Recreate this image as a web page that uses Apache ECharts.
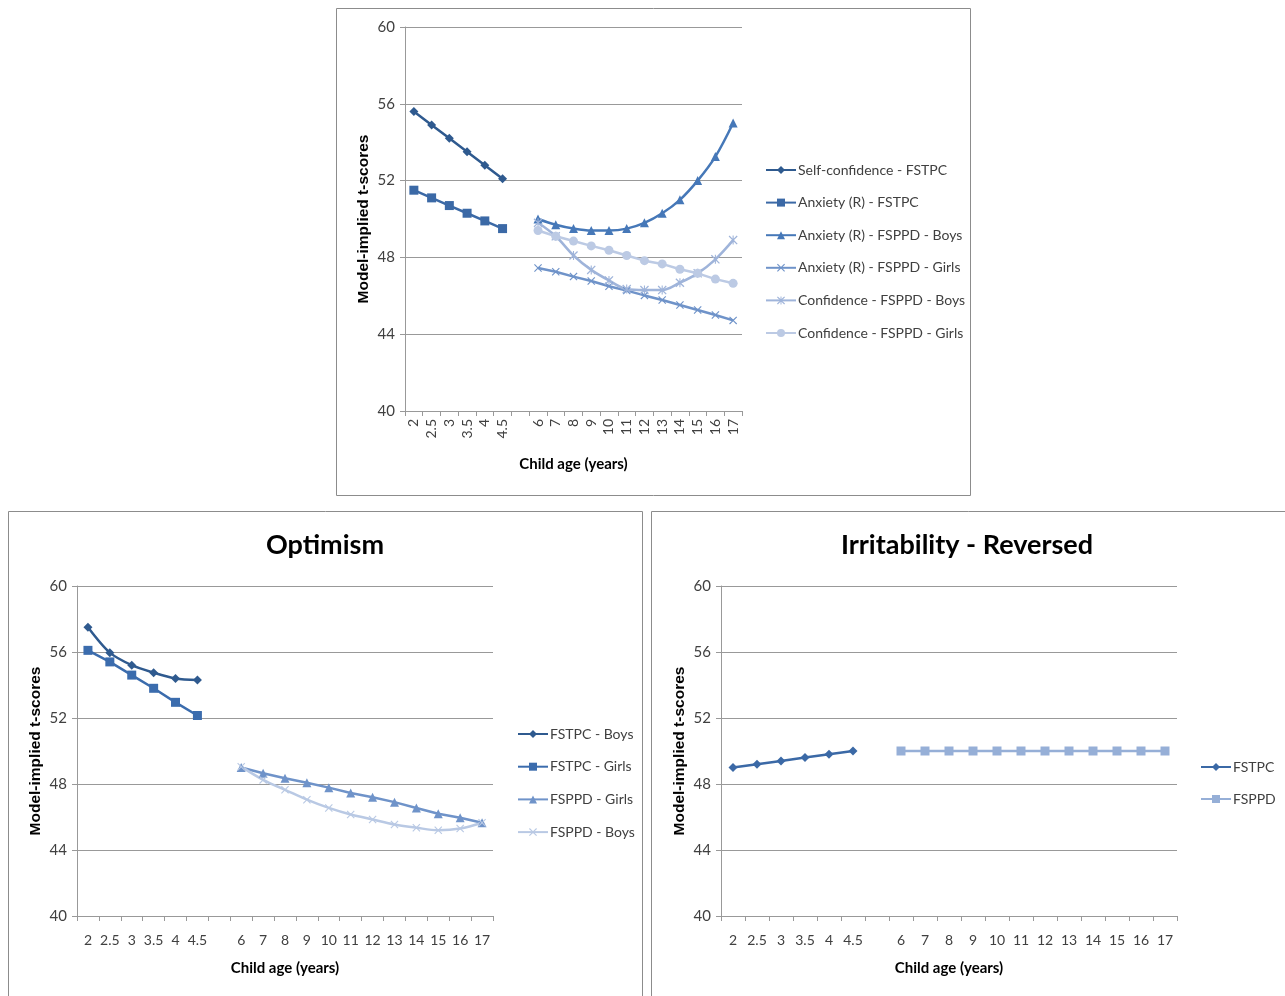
<!DOCTYPE html>
<html>
<head>
<meta charset="utf-8">
<script src="https://cdn.jsdelivr.net/npm/echarts@6/dist/echarts.min.js"></script>
<style>
  html, body { margin: 0; padding: 0; background: #fff; }
  #chart { width: 1285px; height: 996px; }
</style>
</head>
<body>
<div id="chart"></div>
<script>
// categories (the empty one is the gap between the two studies)
var ages = ['2', '2.5', '3', '3.5', '4', '4.5', '', '6', '7', '8', '9', '10', '11', '12', '13', '14', '15', '16', '17'];
var yTicks = [40, 44, 48, 52, 56, 60];

// top chart: FSTPC ages 2..4.5, FSPPD ages 6..17
var selfConfFSTPC = [55.6, 54.9, 54.2, 53.5, 52.8, 52.1];
var anxietyFSTPC = [51.5, 51.1, 50.7, 50.3, 49.9, 49.5];
var anxietyFSPPDBoys = [50.0, 49.7, 49.5, 49.4, 49.4, 49.5, 49.8, 50.3, 51.0, 52.0, 53.25, 55.0];
var anxietyFSPPDGirls = [47.45, 47.25, 47.0, 46.77, 46.5, 46.27, 46.02, 45.78, 45.52, 45.26, 45.0, 44.72];
var confFSPPDBoys = [49.8, 49.1, 48.1, 47.35, 46.8, 46.35, 46.3, 46.3, 46.68, 47.17, 47.9, 48.9];
var confFSPPDGirls = [49.4, 49.1, 48.85, 48.6, 48.37, 48.1, 47.83, 47.66, 47.38, 47.17, 46.87, 46.65];

// optimism
var optFSTPCBoys = [57.5, 55.96, 55.2, 54.75, 54.4, 54.3];
var optFSTPCGirls = [56.1, 55.4, 54.6, 53.8, 52.95, 52.15];
var optFSPPDGirls = [49.0, 48.65, 48.35, 48.08, 47.78, 47.45, 47.2, 46.9, 46.55, 46.2, 45.95, 45.65];
var optFSPPDBoys = [49.05, 48.25, 47.65, 47.05, 46.55, 46.15, 45.85, 45.55, 45.35, 45.2, 45.3, 45.65];

// irritability - reversed
var irrFSTPC = [49.0, 49.2, 49.4, 49.6, 49.8, 50.0];
var irrFSPPD = [50, 50, 50, 50, 50, 50, 50, 50, 50, 50, 50, 50];

var FONT = 'Lato, sans-serif';
var TXT = '#404040';

var xMark = 'path://M0,1L1,0L5,4L9,0L10,1L6,5L10,9L9,10L5,6L1,10L0,9L4,5Z';
var starMark = 'path://M0,1L1,0L5,4L9,0L10,1L6,5L10,9L9,10L5,6L1,10L0,9L4,5Z M4.4,0L5.6,0L5.6,10L4.4,10Z';

// put FSTPC values on the first 6 categories, FSPPD values on the last 12
function early(arr) {
    var out = arr.slice();
    while (out.length < ages.length) out.push(null);
    return out;
}
function late(arr) {
    var out = [];
    while (out.length + arr.length < ages.length) out.push(null);
    return out.concat(arr);
}

function line(name, idx, data, color, symbol, size, smooth) {
    return {
        name: name,
        type: 'line',
        xAxisIndex: idx,
        yAxisIndex: idx,
        data: data,
        color: color,
        symbol: symbol,
        symbolSize: size,
        smooth: smooth || false,
        connectNulls: false,
        lineStyle: { width: 2.5, color: color },
        itemStyle: { color: color },
        emphasis: { disabled: true },
        z: 3
    };
}

function xAxis(idx, rotate) {
    return {
        type: 'category',
        gridIndex: idx,
        data: ages,
        boundaryGap: true,
        name: 'Child age (years)',
        nameLocation: 'middle',
        nameGap: rotate ? 46 : 45,
        nameTextStyle: { fontFamily: FONT, fontSize: 15, fontWeight: 'bold', color: '#000' },
        axisLine: { lineStyle: { color: '#999', width: 1 } },
        axisTick: { show: true, alignWithLabel: false, length: 5, lineStyle: { color: '#999' } },
        axisLabel: { interval: 0, rotate: rotate ? 90 : 0, margin: rotate ? 8 : 17, fontFamily: FONT, fontSize: 14, color: TXT },
        splitLine: { show: false }
    };
}

function yAxis(idx) {
    return {
        type: 'value',
        gridIndex: idx,
        min: yTicks[0],
        max: yTicks[yTicks.length - 1],
        interval: yTicks[1] - yTicks[0],
        name: 'Model-implied t-scores',
        nameLocation: 'middle',
        nameGap: 33,
        nameTextStyle: { fontFamily: 'Liberation Sans, sans-serif', fontSize: 15.5, fontWeight: 'bold', color: '#000' },
        axisLine: { show: true, lineStyle: { color: '#999', width: 1 } },
        axisTick: { show: true, inside: false, length: 5, lineStyle: { color: '#999' } },
        axisLabel: { margin: 10, fontFamily: FONT, fontSize: 15, color: TXT },
        splitLine: { show: true, lineStyle: { color: '#999', width: 1 } }
    };
}

function legend(left, top, names, gap) {
    return {
        orient: 'vertical',
        left: left,
        top: top,
        padding: 0,
        data: names,
        itemWidth: 30,
        itemHeight: 10,
        itemGap: gap,
        selectedMode: false,
        textStyle: { fontFamily: FONT, fontSize: 14, color: TXT, padding: [0, 0, 0, -3] }
    };
}

var chart = echarts.init(document.getElementById('chart'), null, { renderer: 'canvas' });

var option = {
    animation: false,
    backgroundColor: '#fff',
    title: [
        { text: 'Optimism', left: 320, top: 527, textAlign: 'center',
          textStyle: { fontFamily: FONT, fontSize: 27, fontWeight: 'bold', color: '#000' } },
        { text: 'Irritability - Reversed', left: 962, top: 527, textAlign: 'center',
          textStyle: { fontFamily: FONT, fontSize: 27, fontWeight: 'bold', color: '#000' } }
    ],
    graphic: [
        { type: 'rect', shape: { x: 336.5, y: 8.5, width: 634, height: 487 }, style: { fill: 'none', stroke: '#8c8c8c', lineWidth: 1 }, z: -1 },
        { type: 'rect', shape: { x: 8.5, y: 511.5, width: 634, height: 490 }, style: { fill: 'none', stroke: '#8c8c8c', lineWidth: 1 }, z: -1 },
        { type: 'rect', shape: { x: 651.5, y: 511.5, width: 640, height: 490 }, style: { fill: 'none', stroke: '#8c8c8c', lineWidth: 1 }, z: -1 }
    ],
    grid: [
        { left: 405, top: 27, width: 337, height: 384 },
        { left: 77, top: 586, width: 416, height: 330 },
        { left: 721, top: 586, width: 456, height: 330 }
    ],
    xAxis: [xAxis(0, true), xAxis(1, false), xAxis(2, false)],
    yAxis: [yAxis(0), yAxis(1), yAxis(2)],
    legend: [
        legend(765, 163, ['Self-confidence - FSTPC', 'Anxiety (R) - FSTPC', 'Anxiety (R) - FSPPD - Boys',
            'Anxiety (R) - FSPPD - Girls', 'Confidence - FSPPD - Boys', 'Confidence - FSPPD - Girls'], 18.6),
        legend(517, 727, ['FSTPC - Boys', 'FSTPC - Girls', 'FSPPD - Girls', 'FSPPD - Boys'], 18.7),
        legend(1200, 760, ['FSTPC', 'FSPPD'], 18)
    ],
    series: [
        line('Self-confidence - FSTPC', 0, early(selfConfFSTPC), '#2f5a8f', 'diamond', 9),
        line('Anxiety (R) - FSTPC', 0, early(anxietyFSTPC), '#3b69a6', 'rect', 9),
        line('Anxiety (R) - FSPPD - Boys', 0, late(anxietyFSPPDBoys), '#4678b8', 'triangle', 9, 0.35),
        line('Anxiety (R) - FSPPD - Girls', 0, late(anxietyFSPPDGirls), '#6f93c9', xMark, 8),
        line('Confidence - FSPPD - Boys', 0, late(confFSPPDBoys), '#9fb4da', starMark, 9, 0.35),
        line('Confidence - FSPPD - Girls', 0, late(confFSPPDGirls), '#bccae4', 'circle', 9),

        line('FSTPC - Boys', 1, early(optFSTPCBoys), '#2f5a8f', 'diamond', 9, 0.3),
        line('FSTPC - Girls', 1, early(optFSTPCGirls), '#3b6cad', 'rect', 9),
        line('FSPPD - Girls', 1, late(optFSPPDGirls), '#6f93c9', 'triangle', 9),
        line('FSPPD - Boys', 1, late(optFSPPDBoys), '#b9c9e4', xMark, 8, 0.35),

        line('FSTPC', 2, early(irrFSTPC), '#3b69a6', 'diamond', 9),
        line('FSPPD', 2, late(irrFSPPD), '#96afd7', 'rect', 9)
    ]
};

chart.setOption(option);
</script>
</body>
</html>
